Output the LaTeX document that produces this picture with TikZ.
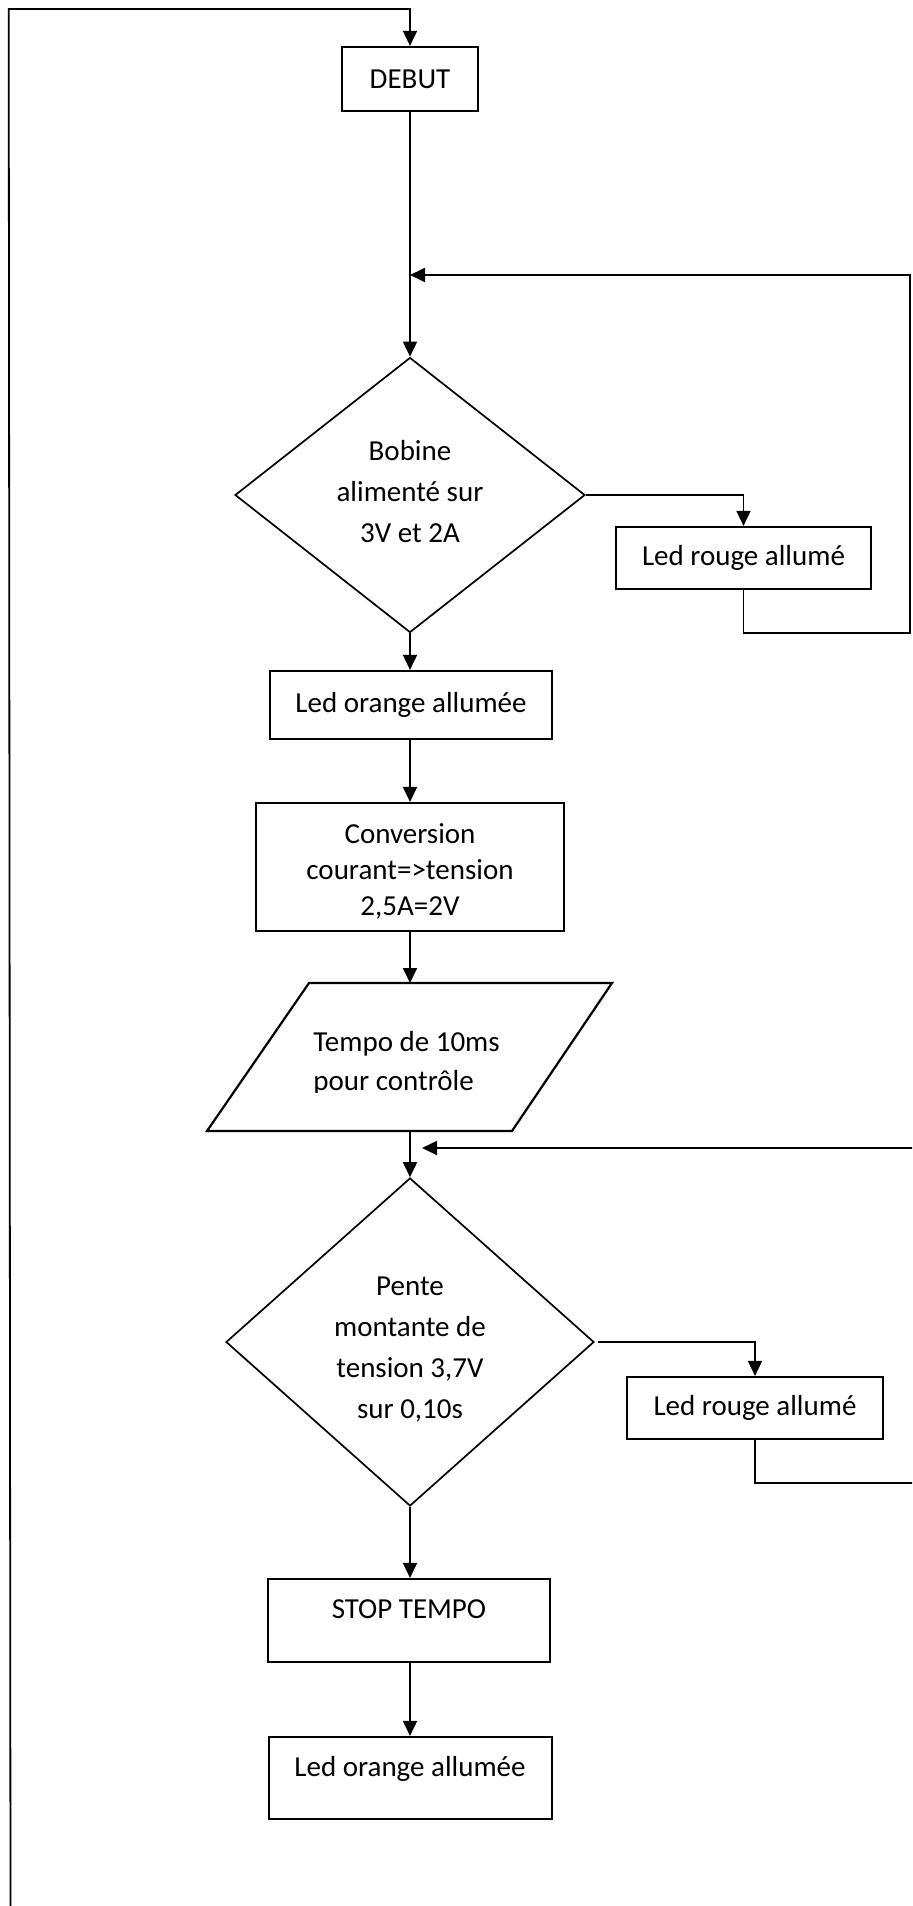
\documentclass[tikz,border=0pt]{standalone}
\usepackage{fontspec}
\setmainfont{Carlito}
\usetikzlibrary{arrows.meta,shapes.geometric}
\begin{document}
\begin{tikzpicture}[x=0.5pt,y=-0.5pt,
  box/.style={draw, line width=1.1pt, rectangle, inner sep=0pt, font=\fontsize{14.5}{18}\selectfont},
  diam/.style={draw, line width=0.85pt, diamond, inner sep=0pt},
  txt/.style={inner sep=0pt, font=\fontsize{14.5}{20.5}\selectfont, align=center},
  conn/.style={line width=0.9pt, -{Triangle[length=7.5pt,width=7pt]}},
  plain/.style={line width=0.9pt}]
\useasboundingbox (0,0) rectangle (912,1906);
\clip (0,0) rectangle (912,1906);

% nodes
\node[box, minimum width=68pt, minimum height=32pt] (debut) at (410,79) {DEBUT};
\node[diam, minimum width=175pt, minimum height=137.5pt] (d1) at (410,495) {};
\node[txt] (d1t) at (410,492) {Bobine\\alimenté sur\\3V et 2A};
\node[box, minimum width=127.5pt, minimum height=31pt] (r1) at (743.5,558) {Led rouge allumé};
\node[box, minimum width=141pt, minimum height=34pt] (o1) at (411,705) {Led orange allumée};
\node[box, minimum width=154pt, minimum height=64pt] (conv) at (410,867) {};
\node[txt, font=\fontsize{14.5}{18}\selectfont] (convt) at (410,871) {Conversion\\courant=>tension\\2,5A=2V};

\coordinate (pA) at (309,983);
\coordinate (pB) at (612,983);
\coordinate (pC) at (512,1131);
\coordinate (pD) at (207,1131);
\draw[line width=1.1pt] (pA) -- (pB) -- (pC) -- (pD) -- cycle;
\coordinate (ptop) at (410,983);
\coordinate (pbot) at (410,1131);
\begin{scope}
  \clip (300,1000) rectangle (620,1092);
  \node[txt, anchor=base west] (tempo1) at (313,1051) {Tempo de 10ms};
  \node[txt, anchor=base west] (tempo2) at (313,1090) {pour contrôle};
\end{scope}

\node[diam, minimum width=184pt, minimum height=164pt] (d2) at (410,1342) {};
\node[txt] (d2t) at (410,1350) {Pente\\montante de\\tension 3,7V\\sur 0,10s};
\node[box, minimum width=128pt, minimum height=31pt] (r2) at (755,1408) {Led rouge allumé};
\node[box, minimum width=141pt, minimum height=41.5pt] (stop) at (409,1620.5) {};
\node[txt] (stopt) at (409,1609) {STOP TEMPO};
\node[box, minimum width=141.5pt, minimum height=41pt] (o2) at (410.5,1778) {};
\node[txt] (o2t) at (410,1769) {Led orange allumée};

% coordinates for connectors
\coordinate (loopbot) at (10.5,1906);
\coordinate (loopmid) at (9.5,860);
\coordinate (looptl) at (8.7,9);
\coordinate (fb1a) at (910,633);
\coordinate (fb1c) at (910,275);
\coordinate (fb1end) at (410,275);
\coordinate (fb2a) at (920,1483);
\coordinate (fb2c) at (920,1148);
\coordinate (fb2end) at (422,1148);

% connectors
\draw[conn] (loopbot) -- (loopmid) -- (looptl) -- (looptl -| debut.north) -- (debut.north);
\draw[conn] (debut.south) -- (d1.north);
\draw[conn] (d1.east) -| (r1.north);
\draw[conn] (r1.south) |- (fb1a) -- (fb1c) -- (fb1end);
\draw[conn] (d1.south) -- (o1.north -| d1.south);
\draw[conn] (o1.south -| conv.north) -- (conv.north);
\draw[conn] (conv.south) -- (ptop);
\draw[conn] (pbot) -- (d2.north);
\draw[conn] ([xshift=1.5pt]d2.east) -| (r2.north);
\draw[conn] (r2.south) |- (fb2a) -- (fb2c) -- (fb2end);
\draw[conn] (d2.south) -- (stop.north -| d2.south);
\draw[conn] (stop.south -| d2.south) -- (o2.north -| d2.south);
\end{tikzpicture}
\end{document}
